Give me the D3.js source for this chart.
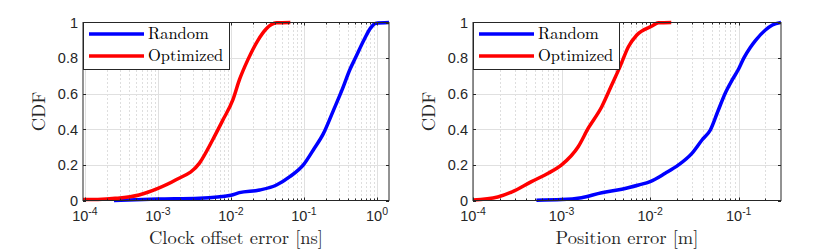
<!DOCTYPE html>
<html>
<head>
<meta charset="utf-8">
<script src="https://cdn.jsdelivr.net/npm/d3@7"></script>
<style>
  body { margin: 0; background: #fff; }
  svg { display: block; }
</style>
</head>
<body>
<script>
// two CDF panels side by side, log x axis

// left panel: clock offset error [ns]
var clockRandomErr = [2.5e-4, 1e-3, 3.7e-3, 0.01, 0.013, 0.0247, 0.042, 0.064, 0.098, 0.134, 0.185, 0.254, 0.331, 0.43, 0.505, 0.66, 0.81, 0.95, 1.46];
var clockRandomCdf = [0, 0.008, 0.013, 0.03, 0.044, 0.059, 0.087, 0.134, 0.2, 0.284, 0.377, 0.508, 0.62, 0.74, 0.8, 0.9, 0.967, 0.995, 1];
var clockOptErr = [0.94e-4, 1.5e-4, 2.6e-4, 5.5e-4, 1e-3, 1.74e-3, 3.7e-3, 5.6e-3, 7.7e-3, 0.0106, 0.0131, 0.017, 0.0234, 0.0305, 0.042, 0.065];
var clockOptCdf = [0.005, 0.006, 0.012, 0.031, 0.068, 0.115, 0.21, 0.34, 0.45, 0.565, 0.68, 0.79, 0.9, 0.965, 0.998, 1];

// right panel: position error [m]
var posRandomErr = [5.2e-4, 1e-3, 1.68e-3, 2.84e-3, 4.78e-3, 7.4e-3, 0.01, 0.0148, 0.0209, 0.0296, 0.0385, 0.0478, 0.058, 0.07, 0.085, 0.1, 0.114, 0.135, 0.155, 0.2, 0.24, 0.3];
var posRandomCdf = [0.002, 0.005, 0.016, 0.044, 0.063, 0.087, 0.106, 0.153, 0.2, 0.265, 0.34, 0.396, 0.5, 0.6, 0.68, 0.74, 0.8, 0.86, 0.9, 0.958, 0.986, 1];
var posOptErr = [1e-4, 1.9e-4, 2.96e-4, 4.57e-4, 7.05e-4, 1e-3, 1.54e-3, 2e-3, 2.84e-3, 3.68e-3, 4.57e-3, 5.68e-3, 7.07e-3, 0.0105, 0.0124, 0.0173];
var posOptCdf = [0.003, 0.02, 0.055, 0.106, 0.153, 0.2, 0.302, 0.406, 0.527, 0.649, 0.752, 0.864, 0.93, 0.98, 0.998, 1];

var seriesNames = ["Random", "Optimized"];
var seriesColors = ["#0000ff", "#ff0000"];
var yTicks = [0, 0.2, 0.4, 0.6, 0.8, 1];
var yTickLabels = ["0", "0.2", "0.4", "0.6", "0.8", "1"];
var yLabel = "CDF";

var panels = [
  { left: 83, right: 389, domain: [0.94e-4, 1.46], xLabel: "Clock offset error [ns]",
    series: [[clockRandomErr, clockRandomCdf], [clockOptErr, clockOptCdf]] },
  { left: 473, right: 781, domain: [1e-4, 0.3], xLabel: "Position error [m]",
    series: [[posRandomErr, posRandomCdf], [posOptErr, posOptCdf]] }
];

var plotTop = 22.5, plotBottom = 200.5;
var axisColor = "#262626";
var serif = "'Latin Modern Roman', 'Liberation Serif', 'Times New Roman', serif";
var sans = "'Liberation Sans', Arial, Helvetica, sans-serif";

var svg = d3.select("body").append("svg")
  .attr("width", 830)
  .attr("height", 249);

panels.forEach(function(p, pi) {
  var x = d3.scaleLog().domain(p.domain).range([p.left, p.right]);
  var y = d3.scaleLinear().domain([0, 1]).range([plotBottom, plotTop]);
  var g = svg.append("g");

  // decades and minor positions inside the domain
  var lo = Math.floor(Math.log10(p.domain[0])), hi = Math.ceil(Math.log10(p.domain[1]));
  var majors = [], minors = [];
  for (var e = lo; e <= hi; e++) {
    var base = Math.pow(10, e);
    if (base >= p.domain[0] * 0.999 && base <= p.domain[1]) majors.push(e);
    for (var m = 2; m <= 9; m++) {
      var v = m * base;
      if (v > p.domain[0] && v < p.domain[1]) minors.push(v);
    }
  }

  // minor grid (dotted)
  g.selectAll(".minorgrid").data(minors).enter().append("line")
    .attr("x1", function(d) { return Math.round(x(d)) + 0.5; })
    .attr("x2", function(d) { return Math.round(x(d)) + 0.5; })
    .attr("y1", plotTop).attr("y2", plotBottom)
    .attr("stroke", "#bdbdbd").attr("stroke-width", 1)
    .attr("stroke-dasharray", "1,3");

  // major grid
  g.selectAll(".vgrid").data(majors).enter().append("line")
    .attr("x1", function(d) { return Math.round(x(Math.pow(10, d))) + 0.5; })
    .attr("x2", function(d) { return Math.round(x(Math.pow(10, d))) + 0.5; })
    .attr("y1", plotTop).attr("y2", plotBottom)
    .attr("stroke", "#e0e0e0").attr("stroke-width", 1);
  g.selectAll(".hgrid").data(yTicks.slice(1, -1)).enter().append("line")
    .attr("x1", p.left).attr("x2", p.right)
    .attr("y1", function(d) { return Math.round(y(d)) + 0.5; })
    .attr("y2", function(d) { return Math.round(y(d)) + 0.5; })
    .attr("stroke", "#e0e0e0").attr("stroke-width", 1);

  // curves
  var clipId = "clip" + pi;
  svg.append("clipPath").attr("id", clipId).append("rect")
    .attr("x", p.left).attr("y", plotTop - 3).attr("width", p.right - p.left).attr("height", plotBottom - plotTop + 6);
  var line = d3.line()
    .curve(d3.curveMonotoneX)
    .x(function(d) { return x(d[0]); })
    .y(function(d) { return y(d[1]); });
  p.series.forEach(function(s, si) {
    var pts = d3.zip(s[0], s[1]);
    g.append("path")
      .datum(pts)
      .attr("d", line)
      .attr("fill", "none")
      .attr("stroke", seriesColors[si])
      .attr("stroke-width", 3.5)
      .attr("stroke-linejoin", "round")
      .attr("clip-path", "url(#" + clipId + ")");
  });

  // ticks, inward on all four sides
  var tl = 3, ml = 2;
  majors.forEach(function(e) {
    var xx = Math.round(x(Math.pow(10, e))) + 0.5;
    g.append("line").attr("x1", xx).attr("x2", xx).attr("y1", plotBottom).attr("y2", plotBottom - tl).attr("stroke", axisColor);
    g.append("line").attr("x1", xx).attr("x2", xx).attr("y1", plotTop).attr("y2", plotTop + tl).attr("stroke", axisColor);
  });
  minors.forEach(function(v) {
    var xx = Math.round(x(v)) + 0.5;
    g.append("line").attr("x1", xx).attr("x2", xx).attr("y1", plotBottom).attr("y2", plotBottom - ml).attr("stroke", axisColor);
    g.append("line").attr("x1", xx).attr("x2", xx).attr("y1", plotTop).attr("y2", plotTop + ml).attr("stroke", axisColor);
  });
  yTicks.forEach(function(t) {
    var yy = Math.round(y(t)) + 0.5;
    g.append("line").attr("x1", p.left).attr("x2", p.left + tl).attr("y1", yy).attr("y2", yy).attr("stroke", axisColor);
    g.append("line").attr("x1", p.right).attr("x2", p.right - tl).attr("y1", yy).attr("y2", yy).attr("stroke", axisColor);
  });

  // box
  g.append("rect")
    .attr("x", p.left).attr("y", plotTop)
    .attr("width", p.right - p.left).attr("height", plotBottom - plotTop)
    .attr("fill", "none").attr("stroke", axisColor).attr("stroke-width", 1);

  // y tick labels
  g.selectAll(".ylab").data(yTicks).enter().append("text")
    .attr("x", p.left - 5)
    .attr("y", function(d) { return y(d); })
    .attr("dy", "0.36em")
    .attr("text-anchor", "end")
    .attr("font-family", sans).attr("font-size", 14.5).attr("fill", axisColor)
    .text(function(d, i) { return yTickLabels[i]; });

  // x tick labels as 10^e
  majors.forEach(function(e) {
    var t = g.append("text")
      .attr("x", x(Math.pow(10, e)))
      .attr("y", 221)
      .attr("text-anchor", "middle")
      .attr("font-family", sans).attr("font-size", 14.5).attr("fill", axisColor);
    t.append("tspan").text("10");
    t.append("tspan").attr("dy", -6).attr("font-size", 10.5).text(e);
  });

  // axis labels
  g.append("text")
    .attr("x", (p.left + p.right) / 2).attr("y", 244)
    .attr("text-anchor", "middle")
    .attr("font-family", serif).attr("font-size", 18.5).attr("fill", axisColor)
    .text(p.xLabel);
  g.append("text")
    .attr("transform", "translate(" + (p.left - 38) + "," + ((plotTop + plotBottom) / 2) + ") rotate(-90)")
    .attr("text-anchor", "middle")
    .attr("font-family", serif).attr("font-size", 18.5).attr("fill", axisColor)
    .text(yLabel);

  // legend
  var lg = g.append("g").attr("transform", "translate(" + p.left + "," + plotTop + ")");
  lg.append("rect")
    .attr("x", 0.5).attr("y", 0).attr("width", 146).attr("height", 47)
    .attr("fill", "#fff").attr("stroke", axisColor).attr("stroke-width", 1);
  seriesNames.forEach(function(name, i) {
    var ly = 11.5 + i * 22;
    lg.append("line")
      .attr("x1", 6).attr("x2", 61).attr("y1", ly).attr("y2", ly)
      .attr("stroke", seriesColors[i]).attr("stroke-width", 3.5);
    lg.append("text")
      .attr("x", 65).attr("y", ly).attr("dy", "0.33em")
      .attr("font-family", serif).attr("font-size", 16.5).attr("fill", "#000")
      .text(name);
  });
});
</script>
</body>
</html>
